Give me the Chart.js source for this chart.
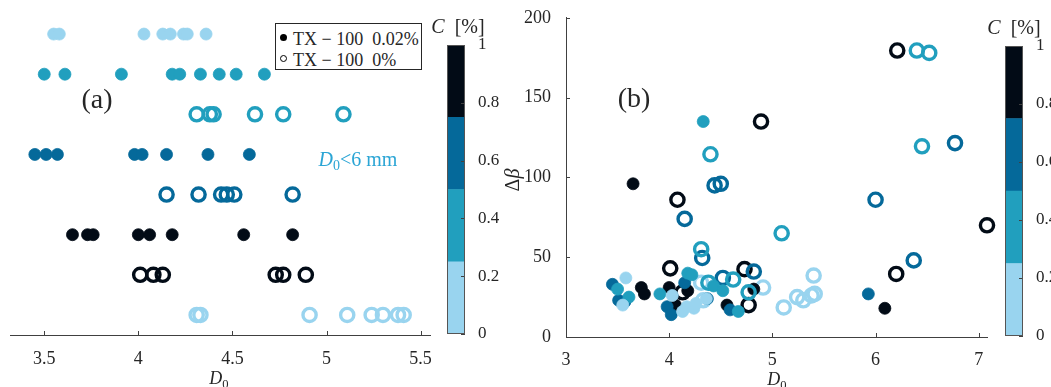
<!DOCTYPE html>
<html>
<head>
<meta charset="utf-8">
<script src="https://cdn.jsdelivr.net/npm/chart.js@4.4.1/dist/chart.umd.min.js"></script>
<style>
  body { margin: 0; background: #fff; }
  #wrap { position: relative; width: 1051px; height: 387px; overflow: hidden;
          font-family: "Liberation Serif", "DejaVu Serif", serif; color: #262626; }
  canvas { position: absolute; top: 0; }
  .lbl { position: absolute; transform: translate(-50%, -50%); white-space: pre; line-height: 1; }
  .sub { font-size: 70%; position: relative; top: 0.3em; }
  #legend { position: absolute; left: 275px; top: 23px; width: 145px; height: 45px;
            border: 1px solid #262626; background: #fff; font-size: 18px; }
  #legend .row { position: absolute; left: 17px; white-space: pre; line-height: 1; }
  #legend .mk { position: absolute; left: 4px; width: 7px; height: 7px; border-radius: 50%; box-sizing: border-box; }
</style>
</head>
<body>
<div id="wrap">
  <canvas id="stripChart" width="445" height="387" style="left:0"></canvas>
  <canvas id="stripBar" width="70" height="387" style="left:440px"></canvas>
  <canvas id="scatterChart" width="500" height="387" style="left:500px"></canvas>
  <canvas id="scatterBar" width="53" height="387" style="left:998px"></canvas>

  <div id="legend">
    <span class="mk" style="top:10px;background:#000"></span>
    <span class="row" style="top:6px">TX − 100  0.02%</span>
    <span class="mk" style="top:31px;border:1px solid #000"></span>
    <span class="row" style="top:27px">TX − 100  0%</span>
  </div>

  <div class="lbl" style="left:97px;top:99px;font-size:28px">(a)</div>
  <div class="lbl" style="left:634px;top:98px;font-size:28px">(b)</div>
  <div class="lbl" style="left:358px;top:159px;font-size:20px;color:#2ba5d5"><i>D</i><span class="sub">0</span>&lt;6 mm</div>
  <div class="lbl" style="left:219px;top:378px;font-size:18px"><i>D</i><span class="sub">0</span></div>
  <div class="lbl" style="left:777px;top:379px;font-size:18px"><i>D</i><span class="sub">0</span></div>
  <div class="lbl" style="left:512px;top:180px;font-size:20px;transform:translate(-50%,-50%) rotate(-90deg)">Δ<i>β</i></div>
  <div class="lbl" style="left:458px;top:26px;font-size:20px"><i>C</i>  [%]</div>
  <div class="lbl" style="left:1014px;top:27px;font-size:20px"><i>C</i>  [%]</div>
</div>

<script>
// colour levels of C [%], light to dark
const levelColors = ['#99d4ef', '#219fbe', '#05699a', '#020b16'];
const levelSteps = [0.25, 0.25, 0.25, 0.25];
const colorbarTicks = [0, 0.2, 0.4, 0.6, 0.8, 1];
const colorbarTickLabels = ['0', '0.2', '0.4', '0.6', '0.8', '1'];

// groups: colour level and marker fill (filled = 0.02 %, open = 0 %)
const groupLevel = [0, 1, 1, 2, 2, 3, 3, 0];
const groupFilled = [true, true, false, true, false, true, false, false];

// (a) one row per group, top to bottom
const stripRows = [8, 7, 6, 5, 4, 3, 2, 1];
const stripD0 = [
    [3.55, 3.58, 4.03, 4.13, 4.17, 4.24, 4.26, 4.36],
    [3.50, 3.61, 3.91, 4.18, 4.22, 4.33, 4.43, 4.52, 4.67],
    [4.31, 4.38, 4.40, 4.62, 4.77, 5.09],
    [3.45, 3.51, 3.57, 3.98, 4.02, 4.15, 4.37, 4.59],
    [4.15, 4.32, 4.44, 4.47, 4.51, 4.82],
    [3.65, 3.73, 3.76, 4.00, 4.06, 4.18, 4.56, 4.82],
    [4.01, 4.08, 4.13, 4.73, 4.77, 4.89],
    [4.31, 4.33, 4.91, 5.11, 5.24, 5.30, 5.38, 5.41]
];
const stripXTicks = [3.5, 4, 4.5, 5, 5.5];

// (b) delta beta against D0
const scatterD0 = [
    [3.55, 3.58, 4.03, 4.13, 4.17, 4.24, 4.26, 4.36],
    [3.50, 3.61, 3.91, 4.18, 4.22, 4.33, 4.43, 4.52, 4.67],
    [4.31, 4.38, 4.40, 4.62, 4.77, 5.09, 6.40, 6.45, 6.52],
    [3.45, 3.51, 3.57, 3.98, 4.02, 4.15, 4.37, 4.59, 5.93],
    [4.15, 4.32, 4.44, 4.50, 4.52, 4.82, 6.00, 6.37, 6.77],
    [3.65, 3.73, 3.76, 4.00, 4.06, 4.18, 4.56, 4.82, 6.09],
    [4.01, 4.08, 4.13, 4.73, 4.77, 4.89, 6.20, 6.21, 7.08],
    [4.31, 4.33, 4.91, 5.11, 5.24, 5.30, 5.38, 5.40, 5.41]
];
const scatterDb = [
    [20, 37, 26, 16, 19, 18, 21, 24],
    [30, 25, 27, 40, 39, 135, 32, 29, 16],
    [55, 34, 114.5, 36, 28, 65, 179.5, 119.5, 178],
    [33, 23, 22, 19, 14, 34, 24, 17, 27],
    [74, 49.5, 95, 96, 37, 41, 86, 48, 121.5],
    [96, 31, 27, 31, 20, 29, 20, 30, 18],
    [43, 86, 28, 42.5, 20, 135, 39.5, 179.5, 70],
    [34, 23, 31, 18.5, 25, 23, 26, 38.5, 27]
];
const scatterXTicks = [3, 4, 5, 6, 7];
const scatterYTicks = [0, 50, 100, 150, 200];

const tickFont = { family: '"Liberation Serif", "DejaVu Serif", serif', size: 18 };
const textColor = '#262626';
const axisColor = '#404040';

// MATLAB style ticks pointing into the plot
const innerTicks = {
    id: 'innerTicks',
    afterDraw(chart, args, opts) {
        const ctx = chart.ctx;
        ctx.save();
        ctx.strokeStyle = axisColor;
        ctx.lineWidth = 1;
        (opts.axes || []).forEach(id => {
            const s = chart.scales[id];
            s.ticks.forEach(t => {
                const p = Math.round(s.getPixelForValue(t.value)) + 0.5;
                ctx.beginPath();
                if (s.position === 'bottom') {
                    ctx.moveTo(p, s.top); ctx.lineTo(p, s.top - 4);
                } else if (s.position === 'left') {
                    ctx.moveTo(s.right, p); ctx.lineTo(s.right + 4, p);
                } else {
                    ctx.moveTo(s.left, p); ctx.lineTo(s.left - 4, p);
                }
                ctx.stroke();
            });
        });
        if (opts.outline) {
            const a = chart.chartArea;
            ctx.strokeStyle = '#555';
            ctx.strokeRect(a.left + 0.5, a.top + 0.5, a.right - a.left - 1, a.bottom - a.top - 1);
        }
        ctx.restore();
    }
};

function groupDataset(i, points) {
    const c = levelColors[groupLevel[i]];
    const filled = groupFilled[i];
    return {
        data: points,
        clip: false,
        pointRadius: filled ? 6 : 6.6,
        pointBorderWidth: filled ? 0.8 : 3.4,
        pointBackgroundColor: filled ? c : 'rgba(0,0,0,0)',
        pointBorderColor: c,
        pointHoverRadius: filled ? 6 : 6.6
    };
}

function setTicks(values) {
    return scale => { scale.ticks = values.map(v => ({ value: v })); };
}

function initStrip() {
    const datasets = stripD0.map((row, i) =>
        groupDataset(i, row.map(x => ({ x: x, y: stripRows[i] }))));
    new Chart(document.getElementById('stripChart'), {
        type: 'scatter',
        data: { datasets: datasets },
        options: {
            responsive: false,
            animation: false,
            layout: { padding: { left: 9, right: 15, top: 14, bottom: 0 } },
            plugins: { legend: { display: false }, tooltip: { enabled: false },
                       innerTicks: { axes: ['x'] } },
            scales: {
                x: {
                    type: 'linear', min: 3.318, max: 5.55,
                    afterBuildTicks: setTicks(stripXTicks),
                    afterFit: s => { s.height = 52; },
                    grid: { display: false },
                    border: { display: true, color: axisColor, width: 1 },
                    ticks: { font: tickFont, color: textColor, padding: 5, maxRotation: 0,
                             callback: v => String(v) }
                },
                y: { type: 'linear', min: 0.5, max: 8.5, display: false }
            }
        },
        plugins: [innerTicks]
    });
}

function initScatter() {
    const datasets = scatterD0.map((row, i) =>
        groupDataset(i, row.map((x, j) => ({ x: x, y: scatterDb[i][j] }))));
    new Chart(document.getElementById('scatterChart'), {
        type: 'scatter',
        data: { datasets: datasets },
        options: {
            responsive: false,
            animation: false,
            layout: { padding: { left: 0, right: 13, top: 15, bottom: 0 } },
            plugins: { legend: { display: false }, tooltip: { enabled: false },
                       innerTicks: { axes: ['x', 'y'] } },
            scales: {
                x: {
                    type: 'linear', min: 3, max: 7.08,
                    afterBuildTicks: setTicks(scatterXTicks),
                    afterFit: s => { s.height = 50; },
                    grid: { display: false },
                    border: { display: true, color: axisColor, width: 1 },
                    ticks: { font: tickFont, color: textColor, padding: 4, maxRotation: 0,
                             callback: v => String(v) }
                },
                y: {
                    type: 'linear', min: 0, max: 200,
                    afterBuildTicks: setTicks(scatterYTicks),
                    afterFit: s => { s.width = 66; },
                    grid: { display: false },
                    border: { display: true, color: axisColor, width: 1 },
                    ticks: { font: tickFont, color: textColor, padding: 7,
                             callback: v => String(v) }
                }
            }
        },
        plugins: [innerTicks]
    });
}

function initColorbar(id, top, bottomPad, axisWidth) {
    const datasets = levelSteps.map((h, i) => ({
        data: [h],
        backgroundColor: levelColors[i],
        borderWidth: 0,
        barPercentage: 1,
        categoryPercentage: 1
    }));
    new Chart(document.getElementById(id), {
        type: 'bar',
        data: { labels: ['C'], datasets: datasets },
        options: {
            responsive: false,
            animation: false,
            layout: { padding: { left: 7, right: 0, top: top, bottom: bottomPad } },
            plugins: { legend: { display: false }, tooltip: { enabled: false },
                       innerTicks: { axes: ['y'], outline: true } },
            scales: {
                x: { stacked: true, display: false },
                y: {
                    stacked: true, position: 'right', min: 0, max: 1,
                    afterBuildTicks: setTicks(colorbarTicks),
                    afterFit: s => { s.width = axisWidth; },
                    grid: { display: false },
                    border: { display: false },
                    ticks: { font: { family: tickFont.family, size: 17 }, color: textColor, padding: 5,
                             callback: (v, i) => colorbarTickLabels[i] }
                }
            }
        },
        plugins: [innerTicks]
    });
}

window.onload = function () {
    initStrip();
    initScatter();
    initColorbar('stripBar', 45, 53, 45);
    initColorbar('scatterBar', 46, 51, 28);
};
</script>
</body>
</html>
